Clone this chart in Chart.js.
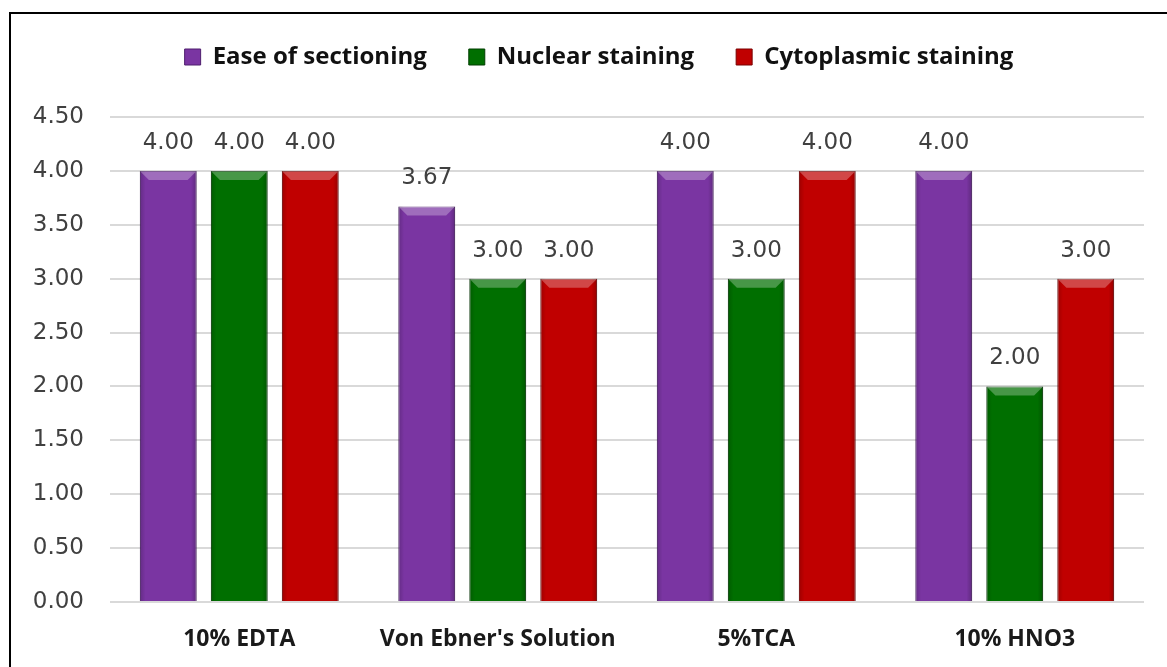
<!DOCTYPE html>
<html>
<head>
<meta charset="utf-8">
<script src="https://cdn.jsdelivr.net/npm/chart.js@4.4.1/dist/chart.umd.min.js"></script>
<style>
  html, body { margin: 0; padding: 0; background: #fff; overflow: hidden; }
  #wrap { position: relative; width: 1167px; height: 667px; }
  #frame { position: absolute; left: 9px; top: 12px; width: 1170px; height: 670px; border: 2.5px solid #000; box-sizing: border-box; pointer-events: none; }
  canvas { position: absolute; left: 0; top: 0; }
</style>
</head>
<body>
<div id="wrap">
  <canvas id="c" width="1167" height="667" style="width:1167px;height:667px"></canvas>
  <div id="frame"></div>
</div>
<script>
const categories = ["10% EDTA", "Von Ebner's Solution", "5%TCA", "10% HNO3"];
const easeOfSectioning = [4.00, 3.67, 4.00, 4.00];
const nuclearStaining = [4.00, 3.00, 3.00, 2.00];
const cytoplasmicStaining = [4.00, 3.00, 4.00, 3.00];
const seriesNames = ["Ease of sectioning", "Nuclear staining", "Cytoplasmic staining"];
const yTicks = [0, 0.5, 1, 1.5, 2, 2.5, 3, 3.5, 4, 4.5];

const colors = ["#7A35A2", "#006F00", "#C00000"];
const edgeColors = ["#4F1F6E", "#003F00", "#7A0000"];

const bevelPlugin = {
  id: 'bevel',
  afterDatasetsDraw(chart) {
    const ctx = chart.ctx;
    chart.data.datasets.forEach((ds, di) => {
      const meta = chart.getDatasetMeta(di);
      meta.data.forEach((bar) => {
        const p = bar.getProps(['x', 'y', 'base', 'width'], true);
        const l = p.x - p.width / 2, r = p.x + p.width / 2, t = p.y, b = p.base;
        const bv = 9;
        ctx.save();
        let g = ctx.createLinearGradient(l, 0, r, 0);
        g.addColorStop(0, 'rgba(0,0,0,0.18)');
        g.addColorStop(0.1, 'rgba(0,0,0,0)');
        g.addColorStop(0.9, 'rgba(0,0,0,0)');
        g.addColorStop(1, 'rgba(0,0,0,0.22)');
        ctx.fillStyle = g;
        ctx.fillRect(l, t, r - l, b - t);
        ctx.beginPath();
        ctx.moveTo(l, t);
        ctx.lineTo(r, t);
        ctx.lineTo(r - bv, t + bv);
        ctx.lineTo(l + bv, t + bv);
        ctx.closePath();
        ctx.fillStyle = 'rgba(255,255,255,0.28)';
        ctx.fill();
        ctx.restore();
      });
    });
  }
};

const labelPlugin = {
  id: 'valueLabels',
  afterDatasetsDraw(chart) {
    const ctx = chart.ctx;
    ctx.save();
    ctx.font = '23px "DejaVu Sans"';
    ctx.fillStyle = '#404040';
    ctx.textAlign = 'center';
    ctx.textBaseline = 'middle';
    chart.data.datasets.forEach((ds, di) => {
      const meta = chart.getDatasetMeta(di);
      meta.data.forEach((bar, i) => {
        ctx.fillText(ds.data[i].toFixed(2), bar.x, bar.y - 28);
      });
    });
    ctx.restore();
  }
};

const legendFit = {
  id: 'legendFit',
  beforeInit(chart) {
    const orig = chart.legend.fit;
    chart.legend.fit = function () {
      orig.bind(chart.legend)();
      this.height = 114;
    };
  },
  afterLayout(chart) {
    chart.legend.left += 22;
    chart.legend.right += 22;
  }
};

new Chart(document.getElementById('c'), {
  type: 'bar',
  data: {
    labels: categories,
    datasets: [
      { label: seriesNames[0], data: easeOfSectioning },
      { label: seriesNames[1], data: nuclearStaining },
      { label: seriesNames[2], data: cytoplasmicStaining }
    ].map((d, i) => Object.assign(d, {
      backgroundColor: colors[i],
      borderColor: edgeColors[i],
      borderWidth: 1,
      categoryPercentage: 0.824,
      barPercentage: 0.80
    }))
  },
  options: {
    responsive: false,
    animation: false,
    devicePixelRatio: 1,
    layout: { padding: { left: 10, right: 23, top: 3, bottom: 0 } },
    plugins: {
      legend: {
        position: 'top',
        labels: {
          boxWidth: 16,
          boxHeight: 16,
          padding: 42,
          color: '#111',
          font: { family: 'Open Sans', weight: 'bold', size: 24 },
          generateLabels(chart) {
            return chart.data.datasets.map((ds, i) => ({
              text: ds.label,
              fillStyle: colors[i],
              strokeStyle: edgeColors[i],
              lineWidth: 1,
              datasetIndex: i,
              fontColor: '#111'
            }));
          }
        }
      },
      tooltip: { enabled: false }
    },
    scales: {
      x: {
        grid: { display: false, drawTicks: false },
        border: { display: false },
        ticks: {
          padding: 24,
          color: '#1a1a1a',
          font: { family: 'Open Sans', weight: 'bold', size: 23 }
        },
        afterFit(scale) { scale.height = 65; }
      },
      y: {
        min: 0,
        max: 4.5,
        afterBuildTicks(scale) { scale.ticks = yTicks.map(v => ({ value: v })); },
        grid: { color: '#D9D9D9', lineWidth: 2, drawTicks: false },
        border: { display: false },
        ticks: {
          padding: 26,
          color: '#404040',
          font: { family: 'DejaVu Sans', size: 23 },
          callback: (v) => Number(v).toFixed(2)
        },
        afterFit(scale) { scale.width = 100; }
      }
    }
  },
  plugins: [bevelPlugin, labelPlugin, legendFit]
});
</script>
</body>
</html>
